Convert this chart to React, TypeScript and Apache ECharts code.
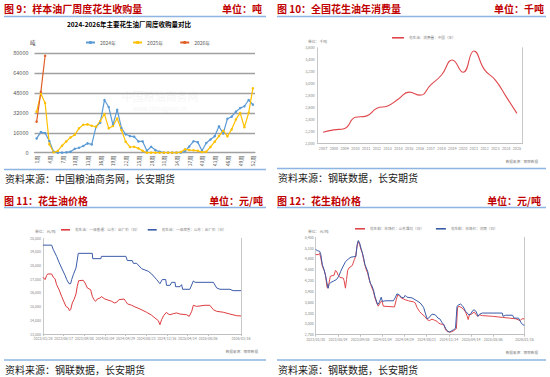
import React, { useEffect, useRef } from "react";
import * as echarts from "echarts";

// ---------- Chart 9: weekly peanut purchases ----------
const weeks: string[] = Array.from({ length: 52 }, (_, i) => `${i + 1}周`);
const buy2024 = [11500, 16600, 15800, 9400, 800, 0, 0, 300, 800, 3200, 4000, 5400, 7500, 6700, 20700, 24200, 42400, 36800, 22300, 34600, 19900, 14800, 13400, 12900, 9100, 9100, 1600, 4800, 2100, 800, 0, 0, 0, 0, 0, 1200, 5000, 9200, 8500, 1600, 7800, 10600, 13300, 21200, 15500, 27300, 29000, 33000, 35900, 37400, 42400, 38700];
const buy2025 = [33000, 47500, 40000, 6800, 300, 1400, 5600, 9100, 12300, 14500, 19600, 22500, 22800, 21700, 20900, 25500, 31100, 19600, 21500, 27500, 18300, 8900, 4600, 4800, 3500, 1600, 0, 0, 0, 0, 0, 0, 0, 0, 500, 2700, 2100, 1900, 1600, 500, 800, 4600, 8900, 13400, 17700, 13200, 18800, 26800, 32000, 20500, 32000, 51800];
const buy2026 = [25000, 49000, 78000];
const buyTicks = [0, 16000, 32000, 48000, 64000, 80000];

// ---------- Chart 10: annual consumption ----------
const years = ["2007", "2008", "2009", "2010", "2011", "2012", "2013", "2014", "2015", "2016", "2017", "2018", "2019", "2020", "2021", "2022", "2023", "2024", "2025"];
const consumption = [2190, 2230, 2255, 2440, 2460, 2590, 2630, 2745, 2860, 2810, 2980, 3145, 3395, 3190, 3545, 3230, 3060, 2785, 2505];

// ---------- Chart 11: peanut oil prices [x index, price] ----------
const oilDates = ["2023/01/28", "2023/06/17", "2023/09/08", "2024/01/04", "2024/04/29", "2024/08/23", "2024/12/16", "2025/04/14", "2025/08/06", "2026/01/16"];
const oilDatePos = [0, 10, 20, 30, 40, 50, 60, 70, 80, 96];
const oilRed: [number, number][] = [
  [0, 17150], [1, 16980], [1.8, 17290], [2.3, 17390], [4.2, 17390], [5, 17150], [5.8, 17050], [6.6, 16610], [7.8, 16240], [9, 15760], [10.2, 15340], [11.1, 15020], [12.3, 14900], [12.8, 14710], [13.4, 14780], [14.2, 15270], [15, 15510], [16, 15930], [16.6, 16490], [17.3, 16900], [19.5, 16930], [20.4, 16730], [21.5, 16370], [23.1, 16240], [23.9, 15760], [24.7, 15510], [25.5, 15390], [26.3, 15560], [27.6, 15630], [28.4, 15730], [30, 15560], [33.3, 15390], [34.6, 15270], [35.7, 15320], [36.8, 15510], [39.3, 15560], [40.1, 15390], [41, 15200], [43, 15100], [44.6, 14980], [47, 14830], [50.2, 14590], [52.7, 14370], [54.3, 14170], [55.9, 13980], [56.7, 13680], [57.5, 14050], [58.6, 14370], [59.9, 14590], [60.7, 14460], [61.6, 14410], [63.2, 14490], [64.8, 14540], [66.4, 14460], [69.6, 14410], [70.9, 14290], [72.1, 14660], [72.9, 15100], [74.5, 15020], [78.5, 15100], [80.9, 15100], [82.6, 14780], [84.2, 14660], [87.4, 14590], [90.6, 14460], [93.9, 14340], [96, 14320],
];
const oilBlue: [number, number][] = [
  [0, 19500], [4.2, 19500], [5, 19170], [6.6, 18680], [7.9, 18200], [9, 17830], [10.7, 17290], [11.5, 16980], [12.6, 16680], [13.4, 16680], [13.9, 16980], [14.7, 17340], [16, 17830], [17.1, 18900], [23.9, 18900], [24.1, 18510], [28.1, 18510], [28.3, 18680], [40.2, 18680], [40.9, 18370], [43.3, 18370], [43.8, 18170], [45.4, 18170], [47.8, 17780], [51, 17590], [52.7, 17390], [55.1, 16980], [56.7, 16680], [57.8, 16980], [59.5, 16980], [59.9, 16560], [61.6, 16560], [62.4, 16780], [64, 16780], [64.3, 16460], [66.4, 16460], [67.2, 16610], [67.7, 16270], [71.2, 16270], [72.9, 16880], [73.7, 16780], [82.6, 16780], [84.2, 16370], [85.8, 16270], [90.6, 16270], [92.2, 16170], [96, 16170],
];

// ---------- Chart 12: peanut meal prices [x index, price] ----------
const mealDates = ["2023/01/30", "2023/05/19", "2023/09/08", "2024/01/04", "2024/04/29", "2024/08/21", "2024/11/14", "2025/04/14", "2025/08/06", "2026/01/16"];
const mealDatePos = [0, 10, 20, 30, 40, 50, 60, 70, 80, 94];
const mealRed: [number, number][] = [
  [0, 4920], [1.1, 4920], [1.8, 4950], [2.3, 4830], [3, 4600], [3.8, 4480], [4.4, 4360], [5.1, 4010], [5.6, 3990], [6, 4130], [6.6, 4320], [8.3, 4350], [8.9, 4480], [9.4, 4460], [10.1, 4350], [10.9, 4290], [12.4, 4270], [12.8, 4200], [13.4, 3990], [13.9, 4230], [14.4, 4480], [15, 4550], [16.5, 4620], [17.4, 4780], [18, 4870], [18.6, 5150], [19.2, 5290], [19.8, 5200], [20.4, 5060], [21, 4970], [21.6, 4780], [22.2, 4620], [22.8, 4500], [23.4, 4410], [24, 4250], [24.8, 4090], [25.4, 3990], [26, 3900], [26.7, 3720], [27.5, 3580], [28.2, 3490], [29, 3580], [29.8, 3640], [30.5, 3490], [35.5, 3470], [36.3, 3670], [37, 3810], [37.6, 3790], [38.5, 3720], [40.3, 3670], [41.8, 3640], [44.1, 3610], [44.9, 3580], [45.6, 3460], [46.7, 3350], [47.9, 3270], [49.1, 3210], [50.2, 3120], [51.2, 3090], [52.4, 3130], [53.6, 3100], [54.7, 3070], [55.4, 3020], [56.2, 3000], [57.7, 2980], [58.5, 2840], [59.2, 2790], [60.7, 2770], [62.2, 2810], [63.4, 2870], [63.9, 3440], [64.5, 3490], [66, 3440], [66.8, 3390], [67.5, 3330], [68.3, 3210], [68.7, 3120], [69.3, 3250], [70.2, 3270], [71.5, 3330], [72.1, 3270], [73, 3210], [73.9, 3250], [75.1, 3230], [79.6, 3210], [84.1, 3180], [87.2, 3160], [90.2, 3140], [92.1, 3090], [92.9, 3140], [94, 3140],
];
const mealBlue: [number, number][] = [
  [0, 5060], [0.8, 5030], [1.8, 5010], [2.3, 4920], [3, 4640], [3.8, 4500], [4.5, 4320], [5.1, 4130], [5.6, 3990], [6, 4090], [6.8, 4150], [7.9, 4180], [9.4, 4230], [10.4, 4320], [11.3, 4460], [12.4, 4600], [13.4, 4720], [14.7, 4800], [15.9, 4850], [18.1, 4870], [18.7, 5200], [19.2, 5310], [19.8, 5240], [20.4, 5100], [21, 4970], [21.6, 4830], [22.2, 4640], [22.8, 4550], [23.4, 4460], [24, 4290], [24.6, 4130], [25.2, 4070], [26, 3950], [26.7, 3760], [27.2, 3670], [27.9, 3530], [28.7, 3600], [29.5, 3740], [30.1, 3620], [31.3, 3640], [35, 3640], [35.8, 3720], [36.6, 3830], [37.6, 3810], [38.5, 3740], [39.6, 3720], [40.3, 3790], [41.1, 3740], [43.4, 3720], [45.6, 3640], [47.1, 3580], [48.6, 3460], [49.4, 3300], [50.2, 3140], [50.9, 3160], [52.4, 3270], [53.9, 3250], [55.1, 3160], [55.9, 3140], [56.9, 3040], [57.7, 2980], [58.5, 2880], [59.2, 2810], [60.3, 2770], [61.2, 2810], [62.2, 2840], [63, 2880], [63.7, 3490], [64.5, 3530], [65.3, 3550], [66, 3510], [66.8, 3440], [67.5, 3350], [68.3, 3300], [69, 3250], [69.8, 3270], [70.8, 3370], [71.5, 3390], [72.4, 3330], [73.1, 3210], [73.9, 3270], [75.1, 3300], [84.1, 3300], [84.4, 3210], [85.6, 3240], [88.7, 3240], [89.4, 3160], [91.4, 3160], [92.4, 3050], [93.2, 2980], [94, 2960],
];

const FONT = "'Noto Sans CJK SC', 'Noto Sans', sans-serif";
const HEAD_RED = "#C00000";
const RULE_BLUE = "#8DB4E2";
const fmtThousands = (v: number) => v.toLocaleString("en-US");

function txt(text: string, x: number, y: number, opt: any = {}) {
  return {
    type: "text",
    x,
    y,
    silent: true,
    style: {
      text,
      fill: opt.fill || "#000",
      fontSize: opt.fontSize || 10,
      fontWeight: opt.fontWeight || "normal",
      fontFamily: FONT,
      align: opt.align || "left",
      textAlign: opt.align || "left",
      verticalAlign: "middle",
      textVerticalAlign: "middle",
      opacity: opt.opacity == null ? 1 : opt.opacity,
    },
  };
}
function hline(x1: number, x2: number, y: number, color: string, w: number) {
  return { type: "line", silent: true, shape: { x1, y1: y, x2, y2: y }, style: { stroke: color, lineWidth: w } };
}

export default function App() {
  const ref = useRef<HTMLDivElement>(null);
  useEffect(() => {
    if (!ref.current) return;
    const chart = echarts.init(ref.current, null, { renderer: "svg" });
    const smallLabel = (size: number) => ({ fontSize: size, color: "#7f7f7f", fontFamily: FONT });
    const rightAxis = (gridIndex: number) => ({
      type: "value", gridIndex, position: "right", min: 0, max: 1,
      axisLine: { show: true, lineStyle: { color: "#c8c8c8", width: 1 } },
      axisLabel: { show: false }, axisTick: { show: false }, splitLine: { show: false },
    });
    const option: any = {
      animation: false,
      backgroundColor: "#ffffff",
      textStyle: { fontFamily: FONT },
      grid: [
        { left: 34.5, top: 53.3, width: 220.5, height: 99.4 },
        { left: 317.7, top: 47.7, width: 204.6, height: 96 },
        { left: 43, top: 238.3, width: 198, height: 95.7 },
        { left: 315.7, top: 237.3, width: 208.6, height: 97.4 },
      ],
      xAxis: [
        {
          type: "category", gridIndex: 0, data: weeks, boundaryGap: true,
          axisLine: { lineStyle: { color: "#a0a0a0", width: 1.2 } },
          axisTick: { interval: 2, alignWithLabel: true, lineStyle: { color: "#a0a0a0" }, length: 3 },
          axisLabel: { interval: 2, rotate: 90, fontSize: 5, color: "#595959", margin: 3 },
        },
        {
          type: "category", gridIndex: 1, data: years, boundaryGap: true,
          axisLine: { lineStyle: { color: "#c0c0c0" } },
          axisTick: { lineStyle: { color: "#c0c0c0" }, length: 2 },
          axisLabel: { ...smallLabel(3.8), interval: 0, margin: 3 },
        },
        {
          type: "value", gridIndex: 2, min: 0, max: 96,
          splitLine: { show: false },
          axisLine: { show: true, lineStyle: { color: "#c0c0c0" } },
          axisTick: { show: true, customValues: oilDatePos, lineStyle: { color: "#c0c0c0" }, length: 2 },
          axisLabel: { ...smallLabel(3.6), customValues: oilDatePos, margin: 3, formatter: (v: number) => oilDates[oilDatePos.indexOf(Math.round(v))] || "" },
        },
        {
          type: "value", gridIndex: 3, min: 0, max: 94,
          splitLine: { show: false },
          axisLine: { show: true, lineStyle: { color: "#c0c0c0" } },
          axisTick: { show: true, customValues: mealDatePos, lineStyle: { color: "#c0c0c0" }, length: 2 },
          axisLabel: { ...smallLabel(3.6), customValues: mealDatePos, margin: 3, formatter: (v: number) => mealDates[mealDatePos.indexOf(Math.round(v))] || "" },
        },
      ],
      yAxis: [
        {
          type: "value", gridIndex: 0, min: buyTicks[0], max: buyTicks[buyTicks.length - 1], interval: 16000,
          axisLine: { show: false }, axisTick: { show: false },
          splitLine: { lineStyle: { color: "#a0a0a0", width: 1.3 } },
          axisLabel: { fontSize: 5.5, color: "#595959", margin: 6, formatter: (v: number) => String(v) },
        },
        {
          type: "value", gridIndex: 1, min: 2000, max: 3600, interval: 200,
          axisLine: { show: true, lineStyle: { color: "#c8c8c8" } }, axisTick: { show: false },
          splitLine: { show: false },
          axisLabel: { ...smallLabel(3.8), margin: 3, formatter: fmtThousands },
        },
        rightAxis(1),
        {
          type: "value", gridIndex: 2, min: 13000, max: 20000, interval: 1000,
          axisLine: { show: true, lineStyle: { color: "#c8c8c8" } }, axisTick: { show: false },
          splitLine: { show: false },
          axisLabel: { ...smallLabel(3.6), margin: 2, formatter: fmtThousands },
        },
        rightAxis(2),
        {
          type: "value", gridIndex: 3, min: 2700, max: 5400, interval: 300,
          axisLine: { show: true, lineStyle: { color: "#c8c8c8" } }, axisTick: { show: false },
          splitLine: { show: false },
          axisLabel: { ...smallLabel(3.6), margin: 2, formatter: fmtThousands },
        },
        rightAxis(3),
      ],
      legend: [
        {
          data: ["2024年", "2025年", "2026年"], left: 80, top: 35, itemWidth: 9, itemHeight: 4, itemGap: 16,
          textStyle: { fontSize: 5, color: "#595959", fontFamily: FONT },
        },
        {
          data: ["花生油：消费量：中国（年）"], left: 387, top: 31, icon: "rect", itemWidth: 12, itemHeight: 1.6,
          textStyle: { fontSize: 3.6, color: "#7f7f7f", fontFamily: FONT },
        },
        {
          data: ["花生油：一级普通：山东：出厂价（日）", "花生油：一级浓香：山东：出厂价（日）"], left: 56, top: 223, icon: "rect", itemWidth: 9, itemHeight: 1.6, itemGap: 8,
          textStyle: { fontSize: 3.6, color: "#7f7f7f", fontFamily: FONT },
        },
        {
          data: ["花生粕：市场价：山东潍坊（日）", "花生粕：市场价：河南（日）"], left: 350, top: 222, icon: "rect", itemWidth: 10, itemHeight: 1.6, itemGap: 12,
          textStyle: { fontSize: 3.6, color: "#7f7f7f", fontFamily: FONT },
        },
      ],
      series: [
        { name: "2024年", type: "line", xAxisIndex: 0, yAxisIndex: 0, data: buy2024, symbol: "circle", symbolSize: 2.5, lineStyle: { width: 1.2, color: "#5B9BD5" }, itemStyle: { color: "#5B9BD5" } },
        { name: "2025年", type: "line", xAxisIndex: 0, yAxisIndex: 0, data: buy2025, symbol: "circle", symbolSize: 2.5, lineStyle: { width: 1.2, color: "#FFC000" }, itemStyle: { color: "#FFC000" } },
        { name: "2026年", type: "line", xAxisIndex: 0, yAxisIndex: 0, data: buy2026, symbol: "circle", symbolSize: 2.5, lineStyle: { width: 1.2, color: "#E0602A" }, itemStyle: { color: "#E0602A" } },
        { name: "花生油：消费量：中国（年）", type: "line", xAxisIndex: 1, yAxisIndex: 1, data: consumption, smooth: 0.5, showSymbol: false, lineStyle: { width: 1.1, color: "#E0474C" }, itemStyle: { color: "#E0474C" } },
        { name: "花生油：一级普通：山东：出厂价（日）", type: "line", xAxisIndex: 2, yAxisIndex: 3, data: oilRed, showSymbol: false, lineStyle: { width: 1, color: "#DD3B3F" }, itemStyle: { color: "#DD3B3F" } },
        { name: "花生油：一级浓香：山东：出厂价（日）", type: "line", xAxisIndex: 2, yAxisIndex: 3, data: oilBlue, showSymbol: false, lineStyle: { width: 1, color: "#3A5BA8" }, itemStyle: { color: "#3A5BA8" } },
        { name: "花生粕：市场价：山东潍坊（日）", type: "line", xAxisIndex: 3, yAxisIndex: 5, data: mealRed, showSymbol: false, lineStyle: { width: 1, color: "#E0474C" }, itemStyle: { color: "#E0474C" } },
        { name: "花生粕：市场价：河南（日）", type: "line", xAxisIndex: 3, yAxisIndex: 5, data: mealBlue, showSymbol: false, lineStyle: { width: 1, color: "#3A5BA8" }, itemStyle: { color: "#3A5BA8" } },
      ],
      graphic: [
        // panel headers
        txt("图 9：样本油厂周度花生收购量", 4, 8.5, { fill: HEAD_RED, fontWeight: "bold" }),
        txt("单位：吨", 262, 8.5, { fill: HEAD_RED, fontWeight: "bold", align: "right" }),
        hline(4, 266, 16.5, RULE_BLUE, 1.5),
        txt("图 10：全国花生油年消费量", 277, 8.5, { fill: HEAD_RED, fontWeight: "bold" }),
        txt("单位：千吨", 544, 8.5, { fill: HEAD_RED, fontWeight: "bold", align: "right" }),
        hline(277, 546, 16.5, RULE_BLUE, 1.5),
        txt("图 11：花生油价格", 4, 200, { fill: HEAD_RED, fontWeight: "bold" }),
        txt("单位：元/吨", 263, 200, { fill: HEAD_RED, fontWeight: "bold", align: "right" }),
        hline(4, 266, 207.5, RULE_BLUE, 1.5),
        txt("图 12：花生粕价格", 277, 200, { fill: HEAD_RED, fontWeight: "bold" }),
        txt("单位：元/吨", 541, 200, { fill: HEAD_RED, fontWeight: "bold", align: "right" }),
        hline(277, 546, 207.5, RULE_BLUE, 1.5),
        // footers
        hline(4, 266, 169.5, RULE_BLUE, 1.5),
        txt("资料来源：中国粮油商务网，长安期货", 5, 178.5, { fill: "#1a1a1a" }),
        hline(277, 546, 168.5, RULE_BLUE, 1.5),
        txt("资料来源：钢联数据，长安期货", 278, 177.5, { fill: "#1a1a1a" }),
        hline(4, 266, 360, RULE_BLUE, 1.5),
        txt("资料来源：钢联数据，长安期货", 5, 369, { fill: "#1a1a1a" }),
        hline(277, 546, 360, RULE_BLUE, 1.5),
        txt("资料来源：钢联数据，长安期货", 278, 369.5, { fill: "#1a1a1a" }),
        // chart 9 inner texts
        txt("2024-2026年主要花生油厂周度收购量对比", 129, 24, { fontSize: 6.5, fontWeight: "bold", align: "center" }),
        txt("吨", 30, 42.5, { fontSize: 5.5, fill: "#404040" }),
        txt("中国粮油商务网", 160, 96, { fontSize: 11, fill: "#ececec", align: "center", opacity: 0.5 }),
        txt("www.chinagrain.cn", 160, 108, { fontSize: 6, fill: "#ececec", align: "center", opacity: 0.5 }),
        // units and sources of inner charts
        txt("单位：千吨", 308, 41, { fontSize: 3.8, fill: "#7f7f7f" }),
        txt("数据来源：钢联数据", 538, 161, { fontSize: 3.6, fill: "#7f7f7f", align: "right" }),
        txt("单位：元/吨", 35, 231.5, { fontSize: 3.8, fill: "#7f7f7f" }),
        txt("数据来源：钢联数据", 258, 351, { fontSize: 3.6, fill: "#7f7f7f", align: "right" }),
        txt("单位：元/吨", 308, 231, { fontSize: 3.8, fill: "#7f7f7f" }),
        txt("数据来源：钢联数据", 538, 352, { fontSize: 3.6, fill: "#7f7f7f", align: "right" }),
      ],
    };
    chart.setOption(option);
    return () => chart.dispose();
  }, []);
  return <div ref={ref} style={{ position: "absolute", left: 0, top: 0, width: 550, height: 377 }} />;
}
